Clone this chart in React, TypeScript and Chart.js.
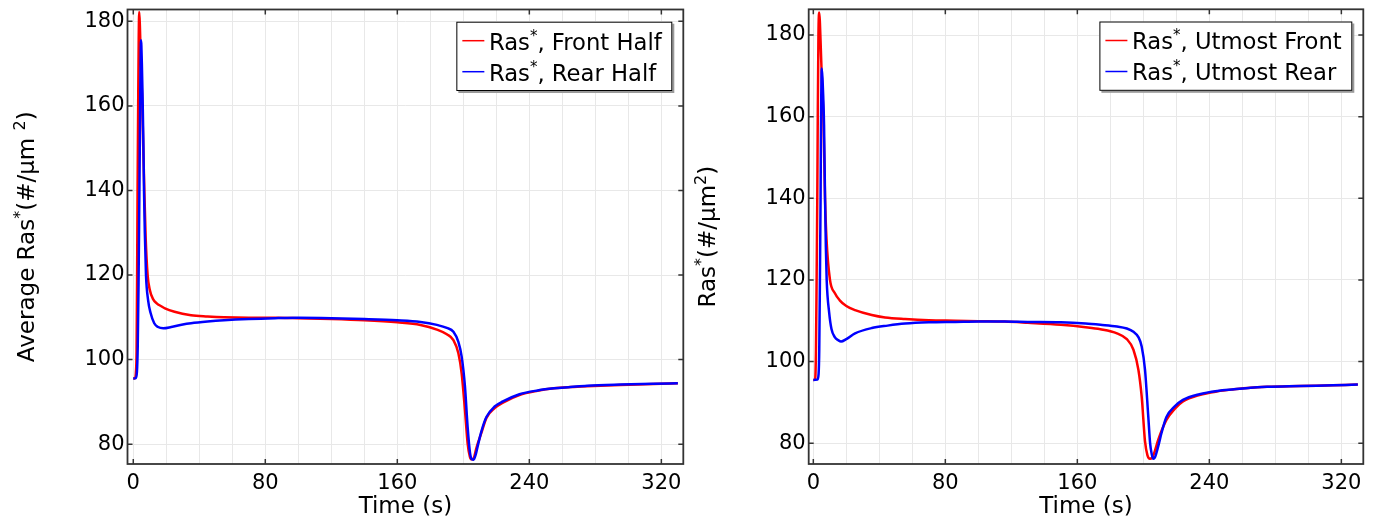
import React, { useEffect, useRef } from 'react';
import { Chart, registerables } from 'chart.js';

Chart.register(...registerables);

const FONT = '"DejaVu Sans", "Liberation Sans", sans-serif';

// ---------- Left panel: half averages ----------
const timeFrontHalf = [0, 1, 1.6, 2, 2.3, 2.6, 3, 3.3, 3.6, 4, 4.5, 5, 5.5, 6, 6.7, 7.5, 8.7, 10, 12, 14.2, 17, 19.2, 25, 35, 45, 55, 70, 86, 100, 120, 140, 160, 174, 184, 190, 194, 197, 199, 201, 202.6, 204, 205, 206.2, 208, 211, 214, 219, 224, 234, 245, 255, 265, 275, 295, 315, 330];
const rasFrontHalf = [95.5, 95.6, 97, 102, 118, 140, 162, 176, 182.2, 179, 172, 166, 160, 151, 140, 129, 120, 116.5, 114.3, 113.3, 112.6, 112.1, 111.3, 110.5, 110.2, 110.0, 109.9, 109.9, 109.8, 109.6, 109.3, 108.8, 108.2, 107.1, 106, 104.6, 101.5, 96.7, 88, 80.2, 77.0, 76.4, 76.6, 79.2, 82.7, 86.2, 88.5, 89.8, 91.6, 92.6, 93.2, 93.5, 93.7, 94.0, 94.2, 94.4];

const timeRearHalf = [0, 1.5, 2.2, 2.7, 3.2, 3.6, 3.9, 4.2, 4.7, 5.2, 5.6, 6.1, 6.5, 7, 7.7, 9, 10.5, 12.7, 15, 18.2, 23, 30, 35, 45, 55, 70, 86, 100, 120, 140, 160, 174, 184, 190, 194, 197, 199, 201, 202.6, 204.1, 205.2, 206.2, 207.5, 209, 211, 214, 219, 224, 234, 245, 255, 265, 275, 295, 315, 330];
const rasRearHalf = [95.5, 95.6, 97, 103, 118, 135, 148, 162, 175.5, 170, 163, 152, 140, 130, 120, 114, 111, 108.6, 107.7, 107.4, 107.7, 108.3, 108.6, 109.0, 109.3, 109.6, 109.8, 109.9, 109.8, 109.6, 109.3, 108.9, 108.2, 107.5, 106.6, 104.2, 100.7, 93.6, 84.1, 77.8, 76.4, 76.3, 77.5, 80.0, 83.1, 86.4, 88.9, 90.1, 91.8, 92.7, 93.2, 93.5, 93.8, 94.1, 94.3, 94.4];

// ---------- Right panel: utmost front / rear ----------
const timeUtmostFront = [0, 1, 1.2, 1.6, 2, 2.4, 2.7, 3.1, 3.6, 4, 4.6, 5.3, 6.1, 7.1, 8, 10.1, 13, 16, 20, 25.3, 35.4, 43.5, 55.6, 70, 86, 100, 116, 130, 150, 165, 174, 184, 190, 194, 197, 199, 201, 202.5, 204, 205.2, 206.5, 209, 214, 219, 224, 234, 245, 255, 265, 275, 295, 315, 330];
const rasUtmostFront = [95.5, 95.6, 96, 102.8, 120, 140, 160, 180, 185.5, 183, 176, 168, 160, 140, 130, 120, 116.8, 115, 113.6, 112.6, 111.4, 110.8, 110.4, 110.1, 110.0, 109.9, 109.8, 109.5, 109.0, 108.4, 107.9, 106.9, 105.5, 102.9, 98, 91.4, 80.5, 77, 76.2, 76.4, 77.5, 80.8, 85.7, 88.4, 90.2, 91.8, 92.7, 93.2, 93.6, 93.8, 94.0, 94.2, 94.35];

const timeUtmostRear = [0, 2.5, 3.2, 3.6, 4, 4.4, 4.7, 5.1, 5.6, 6, 6.5, 7.1, 7.6, 8.1, 9.6, 11, 13, 15.2, 16.8, 20, 25.3, 35.4, 45, 55.6, 70, 86, 100, 116, 130, 150, 165, 174, 184, 190, 194, 197, 199, 201, 203, 204.1, 205, 206, 207, 209, 211, 214, 219, 224, 234, 245, 255, 265, 275, 295, 315, 330];
const rasUtmostRear = [95.5, 95.6, 97, 103, 120, 140, 160, 171.8, 169, 165, 158, 140, 128, 120, 112, 108, 106, 105.2, 104.9, 105.5, 106.9, 108.2, 108.8, 109.3, 109.6, 109.7, 109.8, 109.8, 109.7, 109.6, 109.3, 109.0, 108.6, 108.1, 107.3, 106, 103.7, 98, 86.5, 80, 77.5, 76.2, 76.5, 79.2, 82.5, 86.4, 89, 90.6, 92, 92.8, 93.2, 93.6, 93.8, 94.0, 94.2, 94.35];

const xTickLabels = [0, 80, 160, 240, 320];
const yTickLabels = [80, 100, 120, 140, 160, 180];

const xTitle = 'Time (s)';
const leftYTitle: [string, boolean][] = [['Average Ras', false], ['*', true], ['(#/µm ', false], ['2', true], [')', false]];
const rightYTitle: [string, boolean][] = [['Ras', false], ['*', true], ['(#/µm', false], ['2', true], [')', false]];
const leftLegend = [', Front Half', ', Rear Half'];
const rightLegend = [', Utmost Front', ', Utmost Rear'];

const RED = '#ff0000';
const BLUE = '#0000ff';
const CANVAS_H = 519;
const TITLE_SIZE = 23;
const LEGEND_SIZE = 22.7;
const TICK_SIZE = 21;

type Seg = [string, boolean];

function segWidth(ctx: CanvasRenderingContext2D, segs: Seg[], size: number, supSize: number) {
  let w = 0;
  for (const [t, sup] of segs) {
    ctx.font = `${sup ? supSize : size}px ${FONT}`;
    w += ctx.measureText(t).width;
  }
  return w;
}

function drawRich(ctx: CanvasRenderingContext2D, segs: Seg[], x: number, y: number, size: number, supSize: number, raise: number) {
  ctx.textAlign = 'left';
  ctx.textBaseline = 'alphabetic';
  ctx.fillStyle = '#000';
  let cx = x;
  for (const [t, sup] of segs) {
    ctx.font = `${sup ? supSize : size}px ${FONT}`;
    ctx.fillText(t, cx, sup ? y - raise : y);
    cx += ctx.measureText(t).width;
  }
}

type PanelProps = {
  width: number;
  left: number;
  areaLeft: number;
  areaRight: number;
  areaTop: number;
  areaBottom: number;
  xMin: number;
  xMax: number;
  yMin: number;
  yMax: number;
  series: { t: number[]; v: number[]; color: string; order: number }[];
  legend: string[];
  yTitle: Seg[];
  yTitleBaseline: number;
};

function Panel(p: PanelProps) {
  const ref = useRef<HTMLCanvasElement | null>(null);
  useEffect(() => {
    if (!ref.current) return;
    const decor = {
      id: 'decor',
      afterDraw(chart: any) {
        const { ctx, chartArea: a, scales } = chart;
        const x = scales.x, y = scales.y;
        ctx.save();
        // ticks pointing inward
        ctx.strokeStyle = '#333';
        ctx.lineWidth = 1.5;
        ctx.beginPath();
        for (const v of xTickLabels) {
          const px = x.getPixelForValue(v);
          ctx.moveTo(px, a.bottom); ctx.lineTo(px, a.bottom - 5);
          ctx.moveTo(px, a.top); ctx.lineTo(px, a.top + 5);
        }
        for (const v of yTickLabels) {
          const py = y.getPixelForValue(v);
          ctx.moveTo(a.left, py); ctx.lineTo(a.left + 5, py);
          ctx.moveTo(a.right, py); ctx.lineTo(a.right - 5, py);
        }
        ctx.stroke();
        // frame
        ctx.strokeStyle = '#333';
        ctx.lineWidth = 1.8;
        ctx.strokeRect(a.left, a.top, a.right - a.left, a.bottom - a.top);

        // y title (rotated, with superscripts)
        const supT = Math.round(TITLE_SIZE * 0.68);
        const tw = segWidth(ctx, p.yTitle, TITLE_SIZE, supT);
        ctx.save();
        ctx.translate(p.yTitleBaseline, (a.top + a.bottom) / 2);
        ctx.rotate(-Math.PI / 2);
        drawRich(ctx, p.yTitle, -tw / 2, 0, TITLE_SIZE, supT, 9.5);
        ctx.restore();

        // legend
        const supL = Math.round(LEGEND_SIZE * 0.68);
        const items: Seg[][] = p.legend.map((s) => [['Ras', false], ['*', true], [s, false]] as Seg[]);
        const textW = Math.max(...items.map((it) => segWidth(ctx, it, LEGEND_SIZE, supL)));
        const boxR = a.right - 11;
        const boxL = boxR - (32.6 + textW + 10.6);
        const boxT = a.top + 12.2;
        const boxH = 69.3;
        ctx.fillStyle = '#9a9a9a';
        ctx.fillRect(boxL + 2, boxT + 2, boxR - boxL, boxH);
        ctx.fillStyle = '#fff';
        ctx.fillRect(boxL, boxT, boxR - boxL, boxH);
        ctx.strokeStyle = '#000';
        ctx.lineWidth = 1;
        ctx.strokeRect(boxL + 0.5, boxT + 0.5, boxR - boxL - 1, boxH - 1);
        const colors = p.series.map((s) => s.color);
        items.forEach((it, i) => {
          const ly = boxT + 19 + i * 31;
          ctx.strokeStyle = colors[i];
          ctx.lineWidth = 1.5;
          ctx.beginPath();
          ctx.moveTo(boxL + 6, ly);
          ctx.lineTo(boxL + 28, ly);
          ctx.stroke();
          drawRich(ctx, it, boxL + 32.6, boxT + 27.8 + i * 31, LEGEND_SIZE, supL, 9);
        });
        ctx.restore();
      },
    };

    const chart = new Chart(ref.current, {
      type: 'line',
      data: {
        datasets: p.series.map((s) => ({
          data: s.t.map((t, i) => ({ x: t, y: s.v[i] })),
          borderColor: s.color,
          backgroundColor: s.color,
          borderWidth: 2.5,
          pointRadius: 0,
          fill: false,
          cubicInterpolationMode: 'monotone' as const,
          order: s.order,
        })),
      },
      options: {
        animation: false,
        responsive: false,
        maintainAspectRatio: false,
        events: [],
        layout: { padding: { left: 0, right: p.width - p.areaRight, top: p.areaTop, bottom: 0 } },
        plugins: { legend: { display: false }, tooltip: { enabled: false } },
        scales: {
          x: {
            type: 'linear',
            min: p.xMin,
            max: p.xMax,
            grid: { color: '#e8e8e8', lineWidth: 1, drawTicks: false },
            border: { display: false },
            ticks: {
              stepSize: 20,
              includeBounds: false,
              autoSkip: false,
              maxRotation: 0,
              padding: 7,
              color: '#000',
              font: { family: FONT, size: TICK_SIZE },
              callback: (v: any) => (Math.abs(Number(v) % 80) < 1e-6 ? String(v) : ''),
            },
            title: { display: true, text: xTitle, color: '#000', font: { family: FONT, size: TITLE_SIZE }, padding: { top: 0, bottom: -2 } },
            afterFit: (s: any) => {
              s.height = CANVAS_H - p.areaBottom;
              s.paddingLeft = 0;
              s.paddingRight = 0;
            },
          },
          y: {
            type: 'linear',
            min: p.yMin,
            max: p.yMax,
            grid: { color: '#e8e8e8', lineWidth: 1, drawTicks: false },
            border: { display: false },
            ticks: {
              stepSize: 20,
              includeBounds: false,
              padding: 3,
              color: '#000',
              font: { family: FONT, size: TICK_SIZE },
            },
            afterFit: (s: any) => {
              s.width = p.areaLeft;
              s.paddingTop = 0;
              s.paddingBottom = 0;
            },
          },
        },
      },
      plugins: [decor],
    } as any);
    return () => chart.destroy();
  }, []);
  return (
    <canvas
      ref={ref}
      width={p.width}
      height={CANVAS_H}
      style={{ position: 'absolute', left: p.left, top: 0, width: p.width, height: CANVAS_H }}
    />
  );
}

export default function App() {
  return (
    <div style={{ position: 'fixed', left: 0, top: 0, width: 1377, height: CANVAS_H, background: '#fff' }}>
      <Panel
        width={690}
        left={0}
        areaLeft={127.5}
        areaRight={683.3}
        areaTop={9.5}
        areaBottom={464}
        xMin={-3.5}
        xMax={333.3}
        yMin={75.3}
        yMax={182.8}
        series={[
          { t: timeFrontHalf, v: rasFrontHalf, color: RED, order: 1 },
          { t: timeRearHalf, v: rasRearHalf, color: BLUE, order: 0 },
        ]}
        legend={leftLegend}
        yTitle={leftYTitle}
        yTitleBaseline={34}
      />
      <Panel
        width={687}
        left={690}
        areaLeft={118.7}
        areaRight={673.3}
        areaTop={9.3}
        areaBottom={464}
        xMin={-2.8}
        xMax={333.3}
        yMin={74.9}
        yMax={186.3}
        series={[
          { t: timeUtmostFront, v: rasUtmostFront, color: RED, order: 1 },
          { t: timeUtmostRear, v: rasUtmostRear, color: BLUE, order: 0 },
        ]}
        legend={rightLegend}
        yTitle={rightYTitle}
        yTitleBaseline={25}
      />
    </div>
  );
}
